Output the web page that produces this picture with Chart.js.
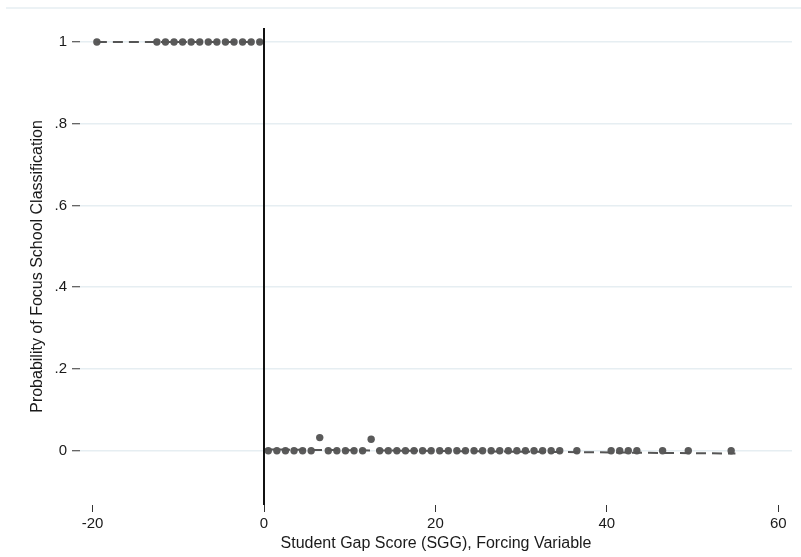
<!DOCTYPE html>
<html>
<head>
<meta charset="utf-8">
<script src="https://cdn.jsdelivr.net/npm/chart.js@4/dist/chart.umd.min.js"></script>
<style>
  html, body { margin: 0; padding: 0; background: #ffffff; }
  canvas { display: block; }
</style>
</head>
<body>
<canvas id="c" width="801" height="557"></canvas>
<script>
// ---- Data (binned means of the outcome by forcing-variable bin) ----
const leftBinX  = [-19.5, -12.5, -11.5, -10.5, -9.5, -8.5, -7.5, -6.5, -5.5, -4.5, -3.5, -2.5, -1.5, -0.5];
const leftBinY  = [1, 1, 1, 1, 1, 1, 1, 1, 1, 1, 1, 1, 1, 1];
const rightBinX = [0.5, 1.5, 2.5, 3.5, 4.5, 5.5, 6.5, 7.5, 8.5, 9.5, 10.5, 11.5, 12.5, 13.5, 14.5, 15.5,
                   16.5, 17.5, 18.5, 19.5, 20.5, 21.5, 22.5, 23.5, 24.5, 25.5, 26.5, 27.5, 28.5, 29.5,
                   30.5, 31.5, 32.5, 33.5, 34.5, 36.5, 40.5, 41.5, 42.5, 43.5, 46.5, 49.5, 54.5];
const rightBinY = [0, 0, 0, 0, 0, 0, 0.032, 0, 0, 0, 0, 0, 0.028, 0, 0, 0,
                   0, 0, 0, 0, 0, 0, 0, 0, 0, 0, 0, 0, 0, 0,
                   0, 0, 0, 0, 0, 0, 0, 0, 0, 0, 0, 0, 0];
// fitted lines on each side of the cutoff
const leftFitX  = [-19.5, 0];
const leftFitY  = [1, 1];
const rightFitX = [0, 55];
const rightFitY = [0.003, -0.007];
// cutoff
const cutoff = [0];
// axes
const xTicks = [-20, 0, 20, 40, 60];
const yTicks = [0, 0.2, 0.4, 0.6, 0.8, 1];
const yTickLabels = ['0', '.2', '.4', '.6', '.8', '1'];
const xTitle = 'Student Gap Score (SGG), Forcing Variable';
const yTitle = 'Probability of Focus School Classification';

const pts = (xs, ys) => xs.map((x, i) => ({ x: x, y: ys[i] }));

const DOT = '#5a5a5a';
const LINE = '#555555';
const GRID = '#e6eef2';
const FONT = "'Liberation Sans', Arial, sans-serif";

const cutoffPlugin = {
  id: 'cutoff',
  beforeDraw(chart) {
    const ctx = chart.ctx;
    ctx.save();
    ctx.strokeStyle = GRID;
    ctx.lineWidth = 1.5;
    ctx.beginPath();
    ctx.moveTo(6, 8);
    ctx.lineTo(chart.width, 8);
    ctx.stroke();
    ctx.restore();
  },
  afterDatasetsDraw(chart) {
    const { ctx, chartArea, scales } = chart;
    ctx.save();
    ctx.strokeStyle = '#111111';
    ctx.lineWidth = 2;
    cutoff.forEach(v => {
      const px = Math.round(scales.x.getPixelForValue(v));
      ctx.beginPath();
      ctx.moveTo(px, chartArea.top);
      ctx.lineTo(px, chartArea.bottom);
      ctx.stroke();
    });
    ctx.restore();
  }
};

new Chart(document.getElementById('c'), {
  type: 'scatter',
  data: {
    datasets: [
      { type: 'line', data: pts(leftFitX, leftFitY), borderColor: LINE, borderWidth: 2,
        borderDash: [10, 6], pointRadius: 0, fill: false, order: 1 },
      { type: 'line', data: pts(rightFitX, rightFitY), borderColor: LINE, borderWidth: 2,
        borderDash: [10, 6], pointRadius: 0, fill: false, order: 1 },
      { data: pts(leftBinX, leftBinY), backgroundColor: DOT, borderWidth: 0,
        pointRadius: 3.7, order: 2 },
      { data: pts(rightBinX, rightBinY), backgroundColor: DOT, borderWidth: 0,
        pointRadius: 3.7, order: 2 }
    ]
  },
  options: {
    responsive: false,
    animation: false,
    devicePixelRatio: 1,
    layout: { padding: { top: 28, right: 9, bottom: 0, left: 0 } },
    plugins: { legend: { display: false }, tooltip: { enabled: false } },
    scales: {
      x: {
        type: 'linear',
        min: -21.47,
        max: 61.6,
        afterBuildTicks: s => { s.ticks = xTicks.map(v => ({ value: v })); },
        afterFit: s => { s.height = 52; },
        border: { display: false },
        grid: { drawOnChartArea: false, drawTicks: true, tickLength: 7, tickColor: '#333333', tickWidth: 1 },
        ticks: { color: '#1a1a1a', font: { family: FONT, size: 15 }, padding: 3, maxRotation: 0 },
        title: { display: true, text: xTitle, color: '#1a1a1a', font: { family: FONT, size: 16 },
                 padding: { top: 0, bottom: 4 } }
      },
      y: {
        type: 'linear',
        min: -0.1329,
        max: 1.0343,
        afterBuildTicks: s => { s.ticks = yTicks.map(v => ({ value: v })); },
        afterFit: s => { s.width = 80; },
        border: { display: false },
        grid: { color: GRID, lineWidth: 1.5, drawTicks: true, tickLength: 8, tickColor: '#333333', tickWidth: 1 },
        ticks: {
          color: '#1a1a1a', font: { family: FONT, size: 15 }, padding: 5,
          callback: (v) => { const i = yTicks.indexOf(v); return i >= 0 ? yTickLabels[i] : ''; }
        },
        title: { display: true, text: yTitle, color: '#1a1a1a', font: { family: FONT, size: 16 },
                 padding: { top: 28, bottom: 0 } }
      }
    }
  },
  plugins: [cutoffPlugin]
});
</script>
</body>
</html>
